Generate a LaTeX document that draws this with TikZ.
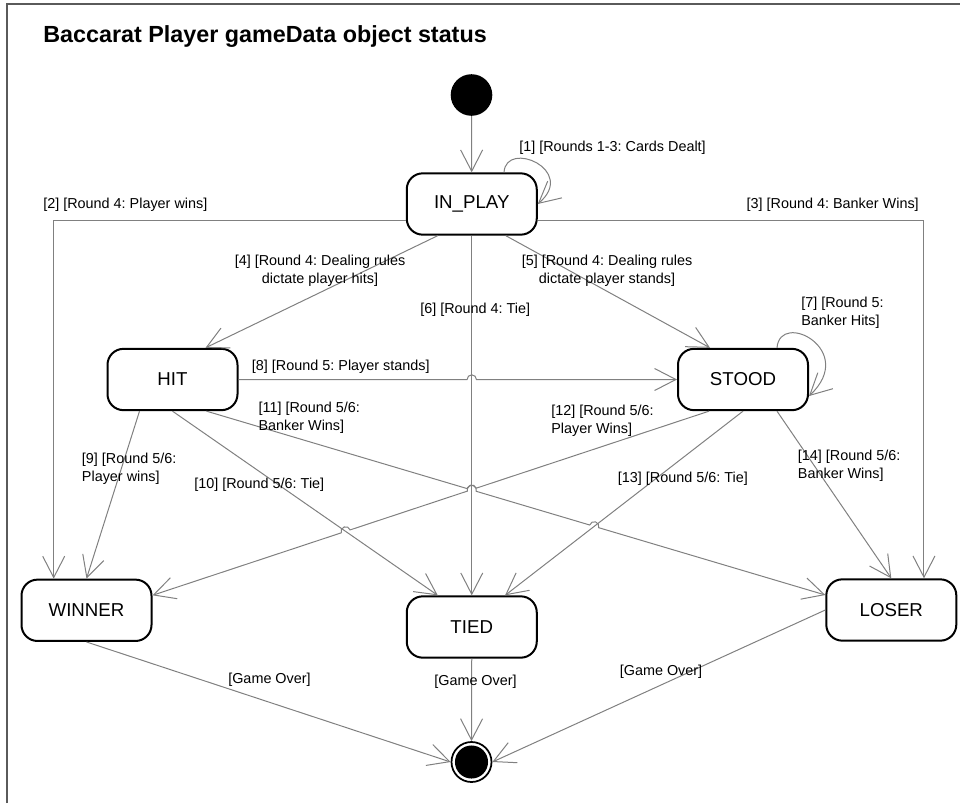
\documentclass[tikz,border=0pt]{standalone}
\usepackage{fontspec}
\setmainfont{Liberation Sans}
\usetikzlibrary{arrows.meta,calc,intersections}
\definecolor{linegray}{RGB}{128,128,128}
\definecolor{framegray}{RGB}{90,90,90}
\frenchspacing
\begin{document}
\begin{tikzpicture}[x=0.75pt,y=-0.75pt,
  state/.style={draw=black, line width=1.5pt, rounded corners=12pt, minimum width=97.5pt, minimum height=46pt, inner sep=0pt, font=\fontsize{14}{16}\selectfont},
  conn/.style={draw=linegray, line width=0.75pt, -{Straight Barb[length=16pt,width=16.5pt]}},
  lbl/.style={font=\fontsize{10.8}{13.2}\selectfont, inner sep=0pt, align=left},
  clbl/.style={font=\fontsize{10.8}{13.2}\selectfont, inner sep=0pt, align=center},
]
\useasboundingbox (0,0) rectangle (960,803);
\draw[framegray, line width=1pt] (7,803) -- (7,4) -- (960,4);

\node[anchor=base west, inner sep=0pt, font=\bfseries\fontsize{17.5}{20}\selectfont] (title) at (43,42.5) {Baccarat Player gameData object status};

% states
\node[circle, fill=black, minimum size=31.2pt, inner sep=0pt] (init) at (471.5,95) {};
\node[state] (INPLAY) at (471.75,204) {IN\_PLAY};
\node[state] (HIT) at (172.5,379.5) {HIT};
\node[state] (STOOD) at (743,379.5) {STOOD};
\node[state] (WINNER) at (86.5,610.3) {WINNER};
\node[state] (TIED) at (471.75,627) {TIED};
\node[state] (LOSER) at (891.3,610) {LOSER};
\node[circle, draw=black, line width=1.3pt, minimum size=30pt, inner sep=0pt] (final) at (471.5,762) {};
\fill[black] (final.center) circle[radius=12.4pt];

% anchor points
\coordinate (s1) at ([xshift=24.2pt]INPLAY.north);
\coordinate (s7) at ([xshift=25.5pt]STOOD.north);
\coordinate (e7) at ([yshift=-12.4pt]STOOD.east);
\coordinate (s11) at ([xshift=25.5pt]HIT.south);
\coordinate (e11) at ([yshift=11.25pt]LOSER.west);
\coordinate (s12) at ([xshift=-25.5pt]STOOD.south);
\coordinate (e12) at ([yshift=11.25pt]WINNER.east);
\coordinate (e10) at ([xshift=-25.5pt]TIED.north);
\coordinate (e13) at ([xshift=25pt]TIED.north);

% crossing points
\path[name path=p6] (INPLAY.south) -- (TIED.north);
\path[name path=p8] (HIT.east) -- (STOOD.west);
\path[name path=p10] (HIT.south) -- (e10);
\path[name path=p11] (s11) -- (e11);
\path[name path=p12] (s12) -- (e12);
\path[name path=p13] (STOOD.south) -- (e13);
\path[name intersections={of=p6 and p8, by=x8}];
\path[name intersections={of=p6 and p11, by=x11a}];
\path[name intersections={of=p13 and p11, by=x11b}];
\path[name intersections={of=p6 and p12, by=x12a}];
\path[name intersections={of=p10 and p12, by=x12b}];

% transitions
\draw[conn] (init) -- (INPLAY);
\draw[conn] (s1) .. controls ($(s1)+(2,-33)$) and ($(INPLAY.east)+(40,-34)$) .. (INPLAY.east);
\draw[conn] ([yshift=-12pt]INPLAY.west) -| ([xshift=-24.6pt]WINNER.north);
\draw[conn] ([yshift=-12pt]INPLAY.east) -| ([xshift=24.5pt]LOSER.north);
\draw[conn] ([xshift=-25.5pt]INPLAY.south) -- ([xshift=24.75pt]HIT.north);
\draw[conn] ([xshift=25.5pt]INPLAY.south) -- ([xshift=-24.75pt]STOOD.north);
\draw[conn] (INPLAY.south) -- (TIED.north);
\draw[conn] (s7) .. controls ($(s7)+(3,-38)$) and ($(e7)+(49,-46)$) .. (e7);
\draw[conn] (HIT.east) -- ($(x8)!3.5pt!(HIT.east)$) arc[start angle=180, end angle=0, radius=3.5pt] -- (STOOD.west);
\draw[conn] ([xshift=-24.75pt]HIT.south) -- (WINNER.north);
\draw[conn] (HIT.south) -- (e10);
\draw[conn] (s11) -- ($(x11a)!3.5pt!(s11)$) arc[start angle=163.46, end angle=-16.54, radius=3.5pt]
  -- ($(x11b)!3.5pt!(s11)$) arc[start angle=163.46, end angle=-16.54, radius=3.5pt] -- (e11);
\draw[conn] (s12) -- ($(x12a)!3.5pt!(s12)$) arc[start angle=18.22, end angle=198.22, radius=3.5pt]
  -- ($(x12b)!3.5pt!(s12)$) arc[start angle=18.22, end angle=198.22, radius=3.5pt] -- (e12);
\draw[conn] (STOOD.south) -- (e13);
\draw[conn] ([xshift=25.5pt]STOOD.south) -- (LOSER.north);
\draw[conn] (WINNER.south) -- (final.west);
\draw[conn] (TIED.south) -- (final.north);
\draw[conn] (LOSER.west) -- (final.east);

% labels
\node[lbl, anchor=west] (l1) at (519,148) {[1] [Rounds 1-3: Cards Dealt]};
\node[lbl, anchor=west] (l2) at (43,205) {[2] [Round 4: Player wins]};
\node[lbl, anchor=east] (l3) at (919,205) {[3] [Round 4: Banker Wins]};
\node[clbl] (l4) at (320,271) {[4] [Round 4: Dealing rules\\dictate player hits]};
\node[clbl] (l5) at (607,271) {[5] [Round 4: Dealing rules\\dictate player stands]};
\node[lbl, anchor=west] (l6) at (420,310) {[6] [Round 4: Tie]};
\node[lbl, anchor=west] (l7) at (801,313) {[7] [Round 5:\\Banker Hits]};
\node[lbl, anchor=west] (l8) at (251.7,366.5) {[8] [Round 5: Player stands]};
\node[lbl, anchor=west] (l9) at (81.7,469) {[9] [Round 5/6:\\Player wins]};
\node[lbl, anchor=west] (l10) at (194,485) {[10] [Round 5/6: Tie]};
\node[lbl, anchor=west] (l11) at (258.3,418) {[11] [Round 5/6:\\Banker Wins]};
\node[lbl, anchor=west] (l12) at (551,421) {[12] [Round 5/6:\\Player Wins]};
\node[lbl, anchor=west] (l13) at (617.7,479) {[13] [Round 5/6: Tie]};
\node[lbl, anchor=west] (l14) at (797.7,465.5) {[14] [Round 5/6:\\Banker Wins]};
\node[lbl] (g1) at (269.5,680) {[Game Over]};
\node[lbl] (g2) at (475.5,682) {[Game Over]};
\node[lbl] (g3) at (661,672) {[Game Over]};
\end{tikzpicture}
\end{document}
